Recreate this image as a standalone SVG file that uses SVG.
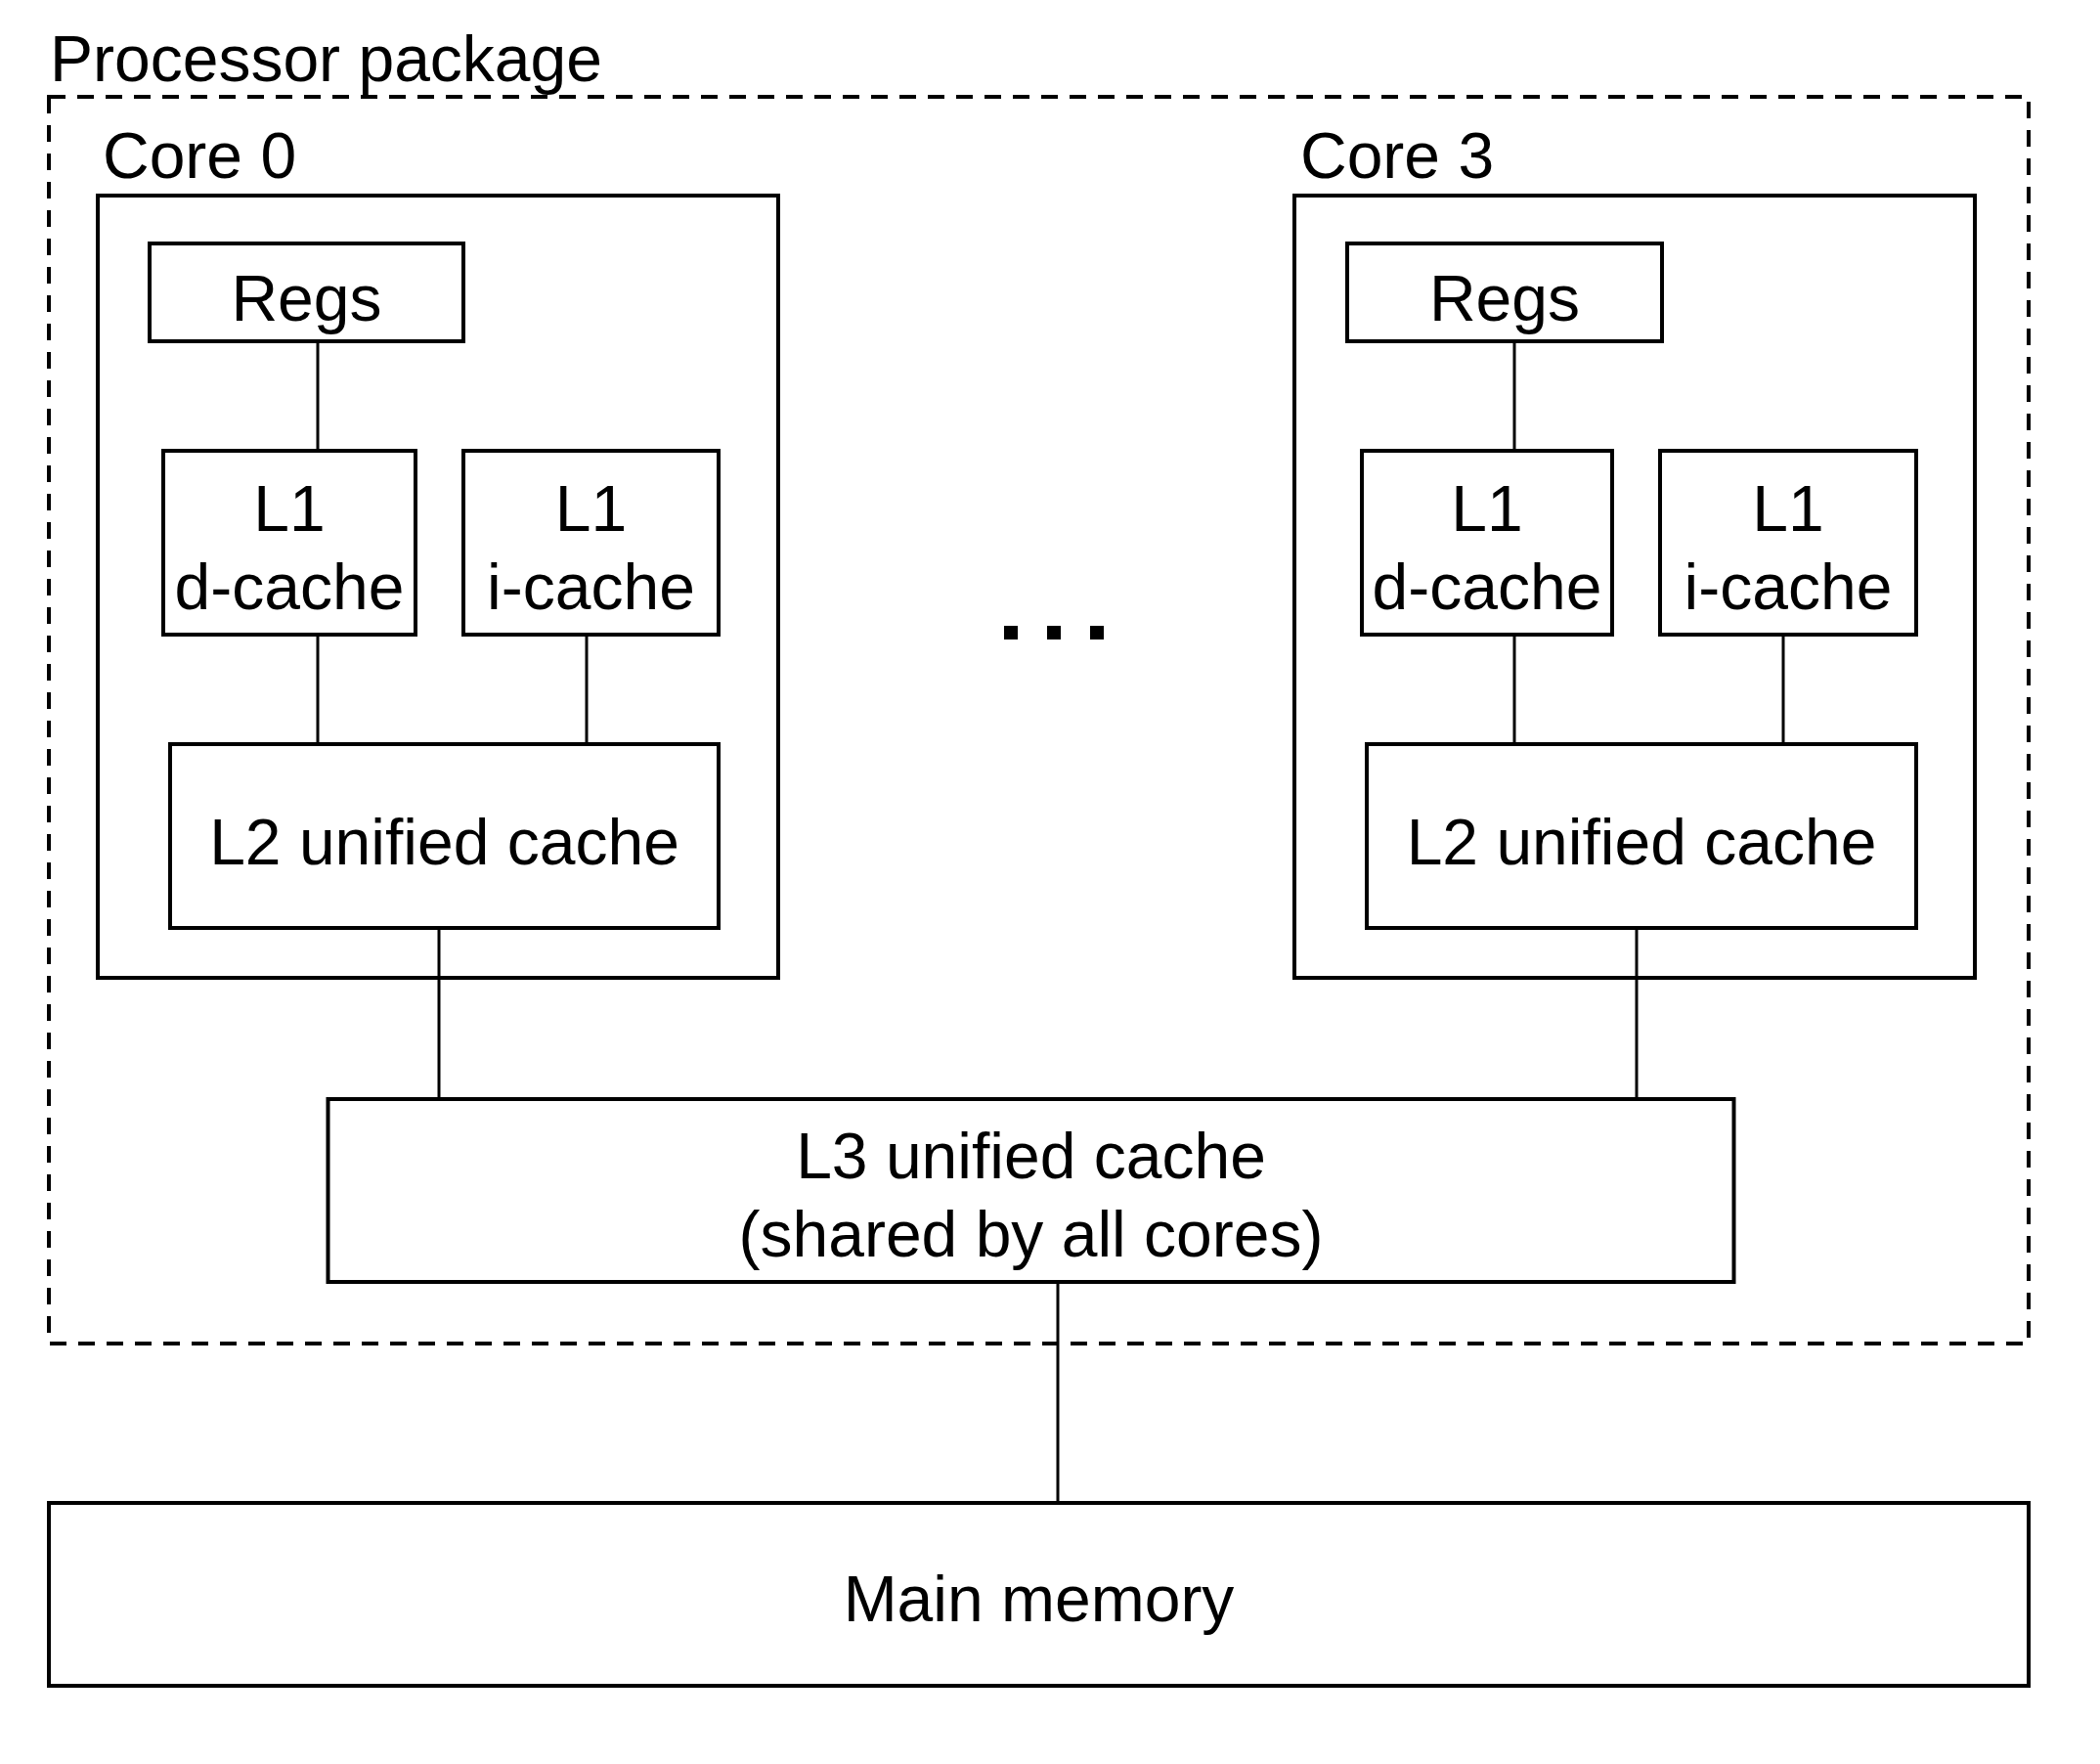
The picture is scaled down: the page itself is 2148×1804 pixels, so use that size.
<svg xmlns="http://www.w3.org/2000/svg" width="2148" height="1804" viewBox="0 0 2148 1804">
<style>
.box{fill:none;stroke:#000;stroke-width:4}
.pkg{fill:none;stroke:#000;stroke-width:4;stroke-dasharray:17 12}
.wire{stroke:#000;stroke-width:3;fill:none}
text{font-family:"Liberation Sans",Arial,sans-serif;font-size:66px;fill:#000}
.c{text-anchor:middle}
</style>
<rect width="2148" height="1804" fill="#fff"/>
<g id="package">
<rect class="pkg" x="50" y="99" width="2025" height="1275"/>
<text x="51" y="83">Processor package</text>
</g>
<g id="connectors">
<line class="wire" x1="325" y1="349" x2="325" y2="461"/>
<line class="wire" x1="325" y1="649" x2="325" y2="761"/>
<line class="wire" x1="600" y1="649" x2="600" y2="761"/>
<line class="wire" x1="449" y1="949" x2="449" y2="1124"/>
<line class="wire" x1="1549" y1="349" x2="1549" y2="461"/>
<line class="wire" x1="1549" y1="649" x2="1549" y2="761"/>
<line class="wire" x1="1824" y1="649" x2="1824" y2="761"/>
<line class="wire" x1="1674" y1="949" x2="1674" y2="1124"/>
<line class="wire" x1="1082" y1="1311" x2="1082" y2="1537"/>
</g>
<g id="core0">
<rect class="box" x="100" y="200" width="696" height="800"/>
<text x="105" y="182">Core 0</text>
</g>
<g id="core0-regs">
<rect class="box" x="153" y="249" width="321" height="100"/>
<text class="c" x="313.5" y="328">Regs</text>
</g>
<g id="core0-l1d">
<rect class="box" x="167" y="461" width="258" height="188"/>
<text class="c" x="296" y="543">L1</text>
<text class="c" x="296" y="623">d-cache</text>
</g>
<g id="core0-l1i">
<rect class="box" x="474" y="461" width="261" height="188"/>
<text class="c" x="604.5" y="543">L1</text>
<text class="c" x="604.5" y="623">i-cache</text>
</g>
<g id="core0-l2">
<rect class="box" x="174" y="761" width="561" height="188"/>
<text class="c" x="454.5" y="884">L2 unified cache</text>
</g>
<g id="core3">
<rect class="box" x="1324" y="200" width="696" height="800"/>
<text x="1330" y="182">Core 3</text>
</g>
<g id="core3-regs">
<rect class="box" x="1378" y="249" width="322" height="100"/>
<text class="c" x="1539" y="328">Regs</text>
</g>
<g id="core3-l1d">
<rect class="box" x="1393" y="461" width="256" height="188"/>
<text class="c" x="1521" y="543">L1</text>
<text class="c" x="1521" y="623">d-cache</text>
</g>
<g id="core3-l1i">
<rect class="box" x="1698" y="461" width="262" height="188"/>
<text class="c" x="1829" y="543">L1</text>
<text class="c" x="1829" y="623">i-cache</text>
</g>
<g id="core3-l2">
<rect class="box" x="1398" y="761" width="562" height="188"/>
<text class="c" x="1679" y="884">L2 unified cache</text>
</g>
<g id="ellipsis">
<rect x="1027" y="640" width="14" height="14" fill="#000"/>
<rect x="1071" y="640" width="14" height="14" fill="#000"/>
<rect x="1115" y="640" width="14" height="14" fill="#000"/>
</g>
<g id="l3">
<rect class="box" x="335.5" y="1124" width="1438" height="187"/>
<text class="c" x="1054.5" y="1205">L3 unified cache</text>
<text class="c" x="1054.5" y="1285">(shared by all cores)</text>
</g>
<g id="main-memory">
<rect class="box" x="50" y="1537" width="2025" height="187"/>
<text class="c" x="1062.5" y="1658">Main memory</text>
</g>
</svg>
